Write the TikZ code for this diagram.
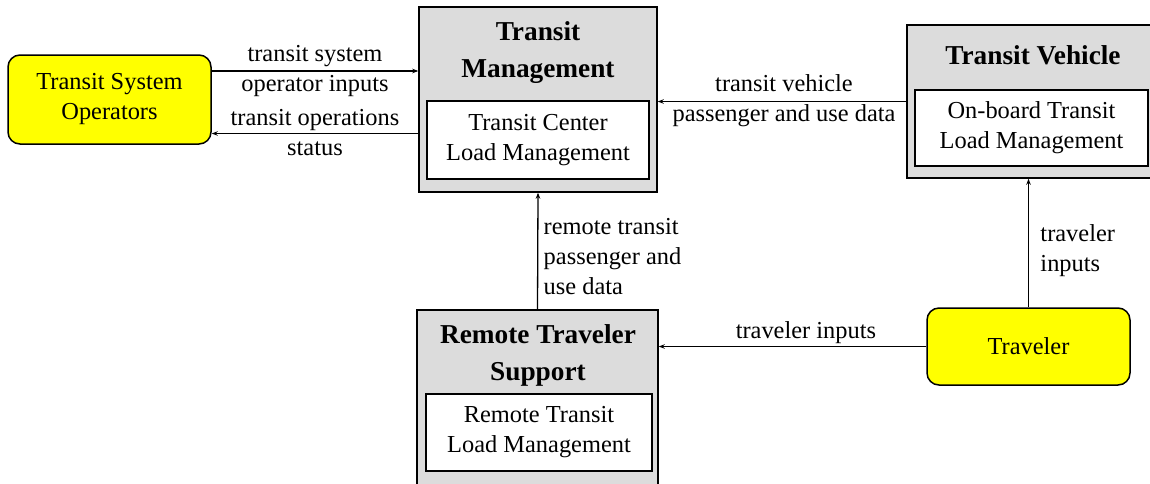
\documentclass[tikz,border=0pt]{standalone}
\usepackage{fontspec}
\setmainfont{Liberation Serif}
\usepackage{xcolor}
\usepackage{tikz}
\usetikzlibrary{arrows.meta}
\definecolor{boxgray}{RGB}{220,220,220}
\definecolor{termyellow}{RGB}{255,255,0}

\begin{document}
\begin{tikzpicture}[x=1pt,y=-1pt,
        every node/.style={font=\fontsize{24.4}{30}\selectfont},
        term/.style={draw,line width=1.5pt,rounded corners=12pt,fill=termyellow,inner sep=0pt,align=center},
        subsys/.style={draw,line width=1.5pt,fill=boxgray,inner sep=0pt},
        pspec/.style={draw,line width=1.5pt,fill=white,inner sep=0pt,align=center},
        title/.style={font=\fontsize{27.3}{37}\selectfont\bfseries,align=center},
        flow/.style={line width=1.3pt,-{Stealth[length=6pt,width=4.5pt]}}]
        \useasboundingbox (0,0) rectangle (1150,483);
        \clip (0,0) rectangle (1150,483);
        \fill[white] (0,0) rectangle (1150,483);
        \node[term,minimum width=203pt,minimum height=89pt] (tso) at (109.5,99.5) {Transit System\\Operators};
        \node[subsys,minimum width=238pt,minimum height=185pt] (tm) at (538,99.5) {};
        \node[title] (tmtitle) at (538,53) {Transit\\Management};
        \node[pspec,minimum width=222pt,minimum height=78pt] (tmload) at (538,140) {Transit Center\\Load Management};
        \node[subsys,minimum width=252pt,minimum height=153pt] (tv) at (1033,101.5) {};
        \node[title] (tvtitle) at (1033,55) {Transit Vehicle};
        \node[pspec,minimum width=233pt,minimum height=76pt] (tvload) at (1031.5,128) {On-board Transit\\Load Management};
        \node[subsys,minimum width=241pt,minimum height=185pt] (rts) at (537.5,402.5) {};
        \node[title] (rtstitle) at (538,355) {Remote Traveler\\Support};
        \node[pspec,minimum width=226pt,minimum height=77pt] (rtsload) at (539,432.5) {Remote Transit\\Load Management};
        \node[term,minimum width=203pt,minimum height=77pt] (trav) at (1028.5,346.5) {Traveler};
        \draw[flow] (tso.east) ++(0,-28.5) coordinate (opin) -- (opin -| tm.west)
            node[midway,align=center] {transit system\\operator inputs};
        \draw[flow] (tm.west) ++(0,34) coordinate (opst) -- (opst -| tso.east)
            node[midway,align=center,yshift=1pt] {transit operations\\status};
        \draw[flow] (tv.west) -- (tv.west -| tm.east)
            node[midway,align=center,xshift=2pt,yshift=1pt] {transit vehicle\\passenger and use data};
        \draw[flow] (rts.north) -- (tm.south)
            node[midway,right,align=left,xshift=2pt,yshift=-6pt] {remote transit\\passenger and\\use data};
        \draw[flow] (trav.west) -- (trav.west -| rts.east)
            node[pos=0.45,above,inner sep=2pt] {traveler inputs};
        \draw[flow] (trav.north) -- (trav.north |- tv.south)
            node[midway,right,align=left,xshift=8pt,yshift=-8pt] {traveler\\inputs};
    \end{tikzpicture}
\end{document}
